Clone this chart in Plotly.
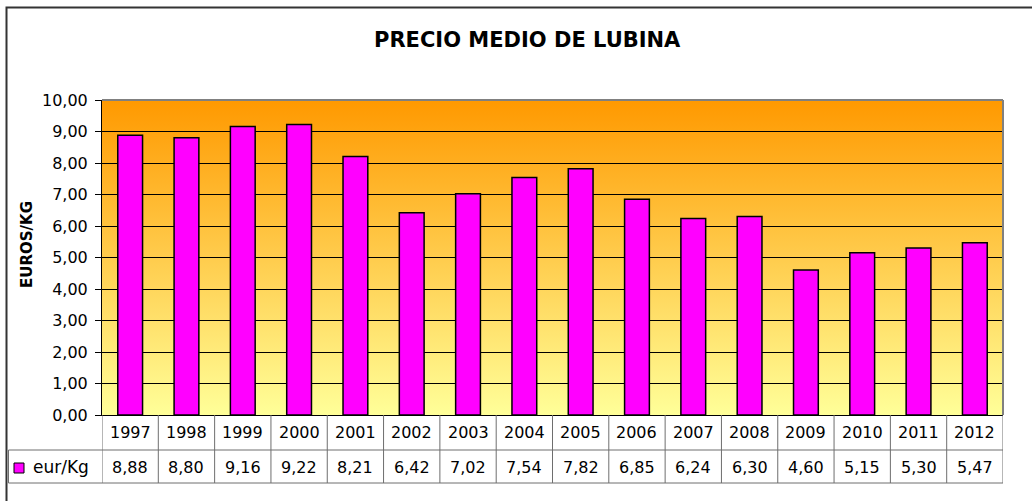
import base64
import plotly.graph_objects as go

years = ["1997", "1998", "1999", "2000", "2001", "2002", "2003", "2004",
         "2005", "2006", "2007", "2008", "2009", "2010", "2011", "2012"]
prices = [8.88, 8.80, 9.16, 9.22, 8.21, 6.42, 7.02, 7.54,
          7.82, 6.85, 6.24, 6.30, 4.60, 5.15, 5.30, 5.47]
series_name = "eur/Kg"
title_text = "PRECIO MEDIO DE LUBINA"
y_title = "EUROS/KG"

W, H = 1032, 501
L, R, T, B = 102, 1003, 100, 415
FONT = "DejaVu Sans, Verdana, sans-serif"


def px(xp):
    return (xp - L) / (R - L)


def py(yp):
    return (B - yp) / (B - T)


svg = ('<svg xmlns="http://www.w3.org/2000/svg" width="100" height="100" preserveAspectRatio="none">'
       '<defs><linearGradient id="g" x1="0" y1="0" x2="0" y2="1">'
       '<stop offset="0" stop-color="#FF9900"/><stop offset="1" stop-color="#FFFF99"/>'
       '</linearGradient></defs><rect width="100" height="100" fill="url(#g)"/></svg>')
svg_uri = "data:image/svg+xml;base64," + base64.b64encode(svg.encode()).decode()

fig = go.Figure()
fig.add_trace(go.Bar(
    x=years, y=prices, name=series_name,
    marker=dict(color="#FF00FF", line=dict(color="#000000", width=1.5)),
    hovertemplate="%{x}: %{y:.2f}<extra></extra>",
))

shapes = []
line_col = "#6E6E6E"
# plot-area frame (top, right)
shapes.append(dict(type="line", xref="paper", yref="paper", x0=0, x1=1, y0=1, y1=1,
                   line=dict(color="#808080", width=2)))
shapes.append(dict(type="line", xref="paper", yref="paper", x0=1, x1=1, y0=0, y1=1,
                   line=dict(color="#808080", width=2)))
# data table lines
for k in range(len(years) + 1):
    shapes.append(dict(type="line", xref="x", yref="paper", x0=k - 0.5, x1=k - 0.5,
                       y0=py(483), y1=py(415), line=dict(color=line_col, width=1)))
for yy in (450, 483):
    shapes.append(dict(type="line", xref="paper", yref="paper", x0=px(8.5), x1=1,
                       y0=py(yy), y1=py(yy), line=dict(color=line_col, width=1)))
shapes.append(dict(type="line", xref="paper", yref="paper", x0=px(8.5), x1=px(8.5),
                   y0=py(483), y1=py(450), line=dict(color=line_col, width=1)))
# legend key
shapes.append(dict(type="rect", xref="paper", yref="paper", x0=px(14), x1=px(24),
                   y0=py(473), y1=py(463), fillcolor="#FF00FF",
                   line=dict(color="#000000", width=1)))
# outer chart frame
shapes.append(dict(type="rect", xref="paper", yref="paper", x0=px(6.5), x1=px(1045),
                   y0=py(530), y1=py(7.5), line=dict(color="#333333", width=2),
                   fillcolor="rgba(0,0,0,0)"))

annotations = []
for i, (yr, v) in enumerate(zip(years, prices)):
    annotations.append(dict(xref="x", yref="paper", x=i, y=py(432), text=yr,
                            showarrow=False, xanchor="center", yanchor="middle",
                            font=dict(family=FONT, size=16, color="#000")))
    annotations.append(dict(xref="x", yref="paper", x=i, y=py(467),
                            text=f"{v:.2f}".replace(".", ","),
                            showarrow=False, xanchor="center", yanchor="middle",
                            font=dict(family=FONT, size=16, color="#000")))
annotations.append(dict(xref="paper", yref="paper", x=px(31), y=py(467), text=series_name,
                        showarrow=False, xanchor="left", yanchor="middle",
                        font=dict(family=FONT, size=17, color="#000")))
annotations.append(dict(xref="paper", yref="paper", x=px(27), y=py(245), text=f"<b>{y_title}</b>",
                        textangle=-90, showarrow=False, xanchor="center", yanchor="middle",
                        font=dict(family=FONT, size=15, color="#000")))
annotations.append(dict(xref="paper", yref="paper", x=px(527), y=py(40), text=f"<b>{title_text}</b>",
                        showarrow=False, xanchor="center", yanchor="middle",
                        font=dict(family=FONT, size=21, color="#000")))

fig.update_layout(
    width=W, height=H,
    margin=dict(l=L, r=W - R, t=T, b=H - B, pad=0),
    paper_bgcolor="#FFFFFF", plot_bgcolor="rgba(0,0,0,0)",
    separators=",.",
    showlegend=False,
    bargap=0.56,
    font=dict(family=FONT, size=16, color="#000"),
    images=[dict(source=svg_uri, xref="paper", yref="paper", x=0, y=1, sizex=1, sizey=1,
                 sizing="stretch", xanchor="left", yanchor="top", layer="below")],
    shapes=shapes,
    annotations=annotations,
    xaxis=dict(type="category", range=[-0.5, len(years) - 0.5], showticklabels=False,
               showgrid=False, zeroline=False, showline=True, linecolor="#000", linewidth=1,
               ticks="", fixedrange=True),
    yaxis=dict(range=[0, 10], dtick=1, tickformat=".2f", showgrid=True, gridcolor="#000",
               gridwidth=1, zeroline=False, showline=True, linecolor="#000", linewidth=1,
               ticks="outside", ticklen=6, tickcolor="#000", ticklabelstandoff=4,
               tickfont=dict(family=FONT, size=16, color="#000"), fixedrange=True),
)

fig.write_html("out.html", config={"displayModeBar": False},
               post_script="document.body.style.margin='0';")
